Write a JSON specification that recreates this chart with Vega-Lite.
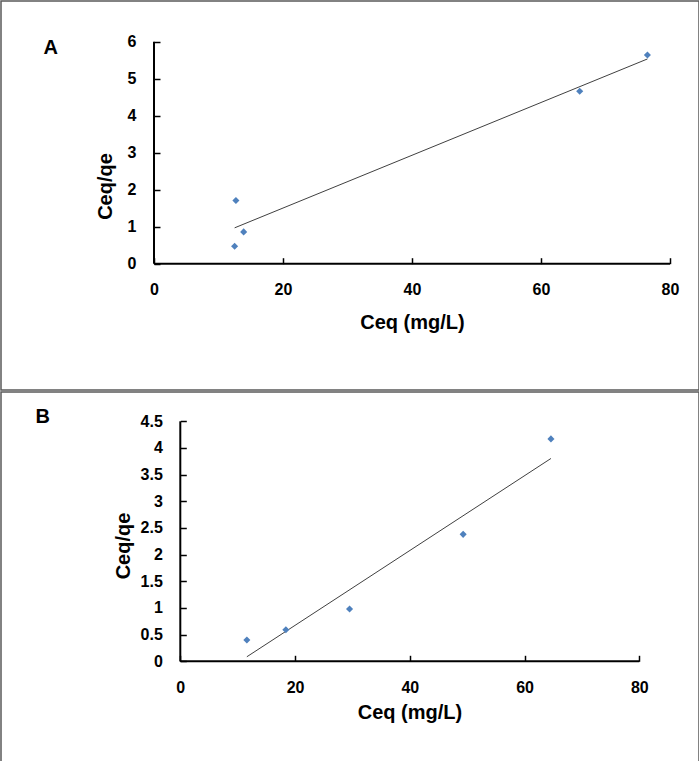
{
  "$schema": "https://vega.github.io/schema/vega-lite/v6.json",
  "padding": 0,
  "spacing": 0,
  "background": "white",
  "datasets": {
    "setA": [
      {"Ceq": 12.7, "Ceq_qe": 1.71},
      {"Ceq": 13.9, "Ceq_qe": 0.86},
      {"Ceq": 12.5, "Ceq_qe": 0.47},
      {"Ceq": 66.0, "Ceq_qe": 4.66},
      {"Ceq": 76.5, "Ceq_qe": 5.64}
    ],
    "setB": [
      {"Ceq": 11.6, "Ceq_qe": 0.40},
      {"Ceq": 18.4, "Ceq_qe": 0.59},
      {"Ceq": 29.5, "Ceq_qe": 0.98},
      {"Ceq": 49.3, "Ceq_qe": 2.38},
      {"Ceq": 64.6, "Ceq_qe": 4.17}
    ]
  },
  "config": {
    "view": {"stroke": "#595959", "strokeWidth": 1.5},
    "font": "Liberation Sans",
    "axis": {
      "grid": false,
      "domain": false,
      "tickColor": "#000000",
      "tickWidth": 1.5,
      "tickSize": -6,
      "labelFont": "Liberation Sans",
      "labelFontWeight": "bold",
      "labelFontSize": 16,
      "labelColor": "#000000",
      "labelFlush": false,
      "labelOverlap": false,
      "labelPadding": 24,
      "titleFont": "Liberation Sans",
      "titleFontWeight": "bold",
      "titleFontSize": 20,
      "titleColor": "#000000",
      "titleBaseline": "alphabetic"
    }
  },
  "vconcat": [
    {
      "width": 698,
      "height": 389,
      "layer": [
        {
          "data": {"values": [{}]},
          "mark": {"type": "rule", "color": "#000000", "strokeWidth": 2},
          "encoding": {
            "x": {
              "datum": 0, "type": "quantitative",
              "scale": {"domain": [-23.721, 84.496], "nice": false, "zero": false},
              "axis": {"title": "Ceq (mg/L)", "values": [0, 20, 40, 60, 80], "labelOverlap": false, "offset": -126.3, "titleX": 411, "titleY": 64.6}
            },
            "x2": {"datum": 80},
            "y": {
              "datum": 0, "type": "quantitative",
              "scale": {"domain": [-3.4135, 7.1], "nice": false, "zero": false},
              "axis": {"title": "Ceq/qe", "values": [0, 1, 2, 3, 4, 5, 6], "labelOverlap": false, "offset": -153, "titleX": -42.3, "titleY": 185, "titleAlign": "center"}
            }
          }
        },
        {
          "data": {"values": [{}]},
          "mark": {"type": "rule", "color": "#000000", "strokeWidth": 2},
          "encoding": {
            "x": {"datum": 0, "type": "quantitative"},
            "y": {"datum": 0, "type": "quantitative"},
            "y2": {"datum": 6}
          }
        },
        {
          "data": {"values": [{}]},
          "mark": {"type": "text", "text": "A", "font": "Liberation Sans", "fontWeight": "bold", "fontSize": 20, "align": "center", "baseline": "alphabetic", "color": "#000000"},
          "encoding": {
            "x": {"datum": -16.0, "type": "quantitative"},
            "y": {"datum": 5.676, "type": "quantitative"}
          }
        },
        {
          "data": {"name": "setA"},
          "transform": [{"regression": "Ceq_qe", "on": "Ceq"}],
          "mark": {"type": "line", "color": "#404040", "strokeWidth": 1},
          "encoding": {
            "x": {"field": "Ceq", "type": "quantitative"},
            "y": {"field": "Ceq_qe", "type": "quantitative"}
          }
        },
        {
          "data": {"name": "setA"},
          "mark": {"type": "point", "shape": "diamond", "filled": true, "size": 50, "color": "#4F81BD", "opacity": 1},
          "encoding": {
            "x": {"field": "Ceq", "type": "quantitative"},
            "y": {"field": "Ceq_qe", "type": "quantitative"}
          }
        }
      ]
    },
    {
      "width": 698,
      "height": 371,
      "layer": [
        {
          "data": {"values": [{}]},
          "mark": {"type": "rule", "color": "#000000", "strokeWidth": 2},
          "encoding": {
            "x": {
              "datum": 0, "type": "quantitative",
              "scale": {"domain": [-31.25, 90.405], "nice": false, "zero": false},
              "axis": {"title": "Ceq (mg/L)", "values": [0, 20, 40, 60, 80], "labelOverlap": false, "offset": -101.7, "titleX": 408.5, "titleY": 56.7}
            },
            "x2": {"datum": 80},
            "y": {
              "datum": 0, "type": "quantitative",
              "scale": {"domain": [-1.9069, 5.0494], "nice": false, "zero": false},
              "axis": {"title": "Ceq/qe", "values": [0, 0.5, 1, 1.5, 2, 2.5, 3, 3.5, 4, 4.5], "format": ".1~f", "labelOverlap": false, "offset": -179.3, "titleX": -51, "titleY": 153.5, "titleAlign": "center"}
            }
          }
        },
        {
          "data": {"values": [{}]},
          "mark": {"type": "rule", "color": "#000000", "strokeWidth": 2},
          "encoding": {
            "x": {"datum": 0, "type": "quantitative"},
            "y": {"datum": 0, "type": "quantitative"},
            "y2": {"datum": 4.5}
          }
        },
        {
          "data": {"values": [{}]},
          "mark": {"type": "text", "text": "B", "font": "Liberation Sans", "fontWeight": "bold", "fontSize": 20, "align": "center", "baseline": "alphabetic", "color": "#000000"},
          "encoding": {
            "x": {"datum": -23.98, "type": "quantitative"},
            "y": {"datum": 4.468, "type": "quantitative"}
          }
        },
        {
          "data": {"name": "setB"},
          "transform": [{"regression": "Ceq_qe", "on": "Ceq"}],
          "mark": {"type": "line", "color": "#404040", "strokeWidth": 1},
          "encoding": {
            "x": {"field": "Ceq", "type": "quantitative"},
            "y": {"field": "Ceq_qe", "type": "quantitative"}
          }
        },
        {
          "data": {"name": "setB"},
          "mark": {"type": "point", "shape": "diamond", "filled": true, "size": 50, "color": "#4F81BD", "opacity": 1},
          "encoding": {
            "x": {"field": "Ceq", "type": "quantitative"},
            "y": {"field": "Ceq_qe", "type": "quantitative"}
          }
        }
      ]
    }
  ]
}
